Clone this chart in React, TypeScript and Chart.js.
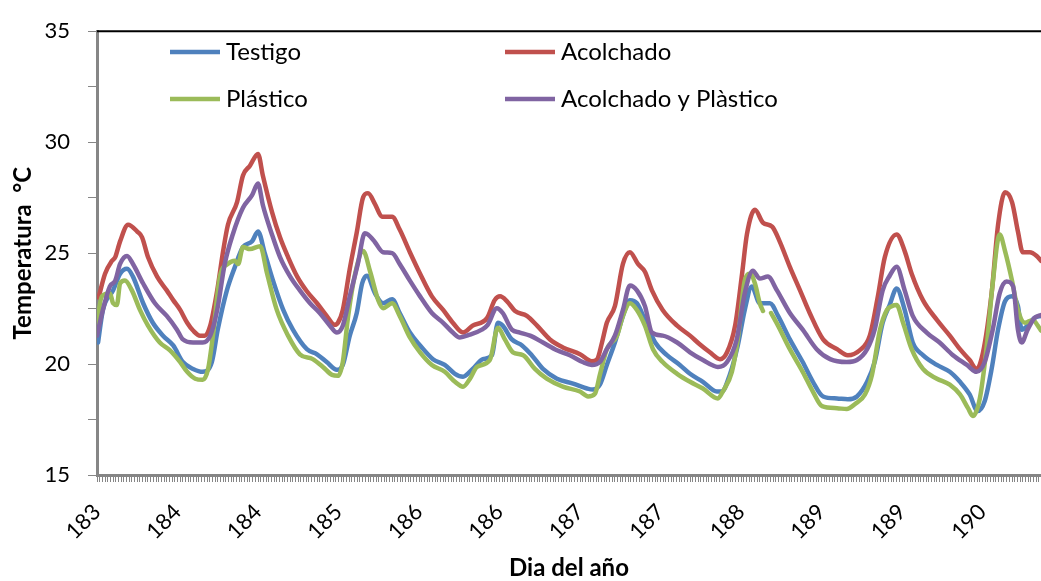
import React, { useEffect, useRef } from 'react';
import { Chart, registerables } from 'chart.js';

Chart.register(...registerables);

// Tick labels of the x axis (one label every 15 hours, starting at day 183, 00:00)
const dayLabels = ['183', '184', '184', '185', '186', '186', '187', '187', '188', '189', '189', '190'];
const hoursPerLabel = 15;
const axisEndHours = 175.9;

const seriesNames = ['Testigo', 'Acolchado', 'Plástico', 'Acolchado y Plàstico'];
const seriesColors = ['#4F81BD', '#C0504D', '#9BBB59', '#8064A2'];

// Hours since the start of day 183 and temperature (°C)
const testigoHours = [0.2, 1.1, 3.0, 4.3, 5.6, 6.7, 8.6, 10.4, 12.3, 14.2, 16.0, 17.9, 19.7, 21.4, 22.5, 24.2, 25.7, 27.2, 28.9, 30.0, 31.3, 32.8, 34.7, 36.5, 39.1, 41.0, 42.8, 44.7, 45.8, 47.1, 48.4, 49.4, 50.3, 51.8, 53.3, 55.0, 56.4, 58.3, 60.2, 62.6, 64.8, 66.7, 68.2, 70.0, 71.9, 73.6, 74.7, 75.6, 77.3, 79.2, 81.0, 83.1, 85.7, 88.7, 91.3, 92.4, 93.7, 95.0, 96.5, 98.0, 99.3, 100.6, 102.1, 104.0, 106.2, 108.6, 110.5, 112.9, 115.5, 116.4, 117.9, 119.4, 120.7, 122.0, 123.5, 125.4, 126.9, 129.1, 131.5, 133.4, 135.3, 137.9, 139.9, 141.6, 143.5, 144.9, 146.4, 147.7, 149.0, 150.5, 152.0, 153.9, 156.5, 158.9, 160.8, 162.6, 164.1, 165.4, 166.7, 167.9, 169.2, 170.5, 171.6, 172.3, 173.4, 174.7, 175.9];
const testigoTemp = [20.97, 22.44, 23.32, 24.07, 24.29, 23.94, 22.74, 21.86, 21.28, 20.84, 20.09, 19.78, 19.65, 20.09, 21.55, 23.32, 24.38, 25.27, 25.53, 25.97, 24.96, 23.76, 22.44, 21.55, 20.67, 20.44, 20.09, 19.74, 19.96, 21.28, 22.30, 23.63, 23.98, 23.19, 22.74, 22.92, 22.30, 21.42, 20.84, 20.22, 19.96, 19.56, 19.43, 19.78, 20.22, 20.40, 21.86, 21.73, 21.11, 20.84, 20.40, 19.78, 19.34, 19.12, 18.90, 18.85, 19.07, 19.96, 20.97, 22.17, 22.88, 22.74, 21.99, 20.97, 20.40, 19.96, 19.56, 19.20, 18.76, 18.76, 19.51, 20.84, 22.44, 23.50, 22.74, 22.74, 22.17, 21.11, 20.09, 19.20, 18.54, 18.45, 18.41, 18.54, 19.20, 20.09, 21.86, 22.66, 23.41, 22.44, 20.97, 20.40, 19.96, 19.65, 19.20, 18.63, 17.88, 18.32, 19.78, 21.55, 22.83, 23.05, 22.61, 21.55, 21.73, 22.08, 22.17];

const acolchadoHours = [0.3, 1.5, 2.8, 3.4, 4.3, 5.8, 7.5, 8.4, 9.5, 11.2, 13.0, 14.2, 15.5, 16.8, 17.9, 19.2, 20.1, 21.1, 22.4, 23.5, 24.4, 26.1, 27.2, 28.5, 30.0, 30.9, 32.6, 34.1, 35.6, 37.3, 39.1, 41.0, 42.8, 44.3, 44.9, 45.8, 47.1, 48.4, 49.6, 50.5, 51.8, 53.1, 55.0, 56.4, 58.3, 60.2, 62.4, 64.5, 66.3, 68.2, 70.0, 72.7, 74.1, 75.1, 76.4, 77.9, 80.1, 82.0, 84.4, 86.8, 90.0, 92.2, 93.2, 94.1, 95.0, 96.5, 98.0, 99.3, 100.8, 102.1, 103.4, 105.4, 108.1, 110.5, 112.3, 114.2, 116.1, 117.4, 118.9, 120.2, 121.1, 122.6, 124.1, 125.8, 127.2, 129.1, 131.0, 132.8, 135.3, 137.9, 139.9, 142.1, 144.0, 145.5, 146.8, 149.0, 150.5, 151.8, 153.9, 156.5, 158.9, 160.8, 162.6, 163.9, 165.1, 166.7, 167.9, 169.2, 170.5, 171.6, 172.5, 173.8, 175.1, 175.9];
const acolchadoTemp = [23.0, 24.07, 24.65, 24.82, 25.53, 26.28, 25.97, 25.71, 24.82, 23.94, 23.32, 22.88, 22.44, 21.86, 21.51, 21.28, 21.28, 21.73, 23.32, 25.09, 26.28, 27.30, 28.50, 28.94, 29.47, 28.50, 26.86, 25.71, 24.82, 23.94, 23.28, 22.74, 22.17, 21.77, 21.86, 22.44, 24.29, 25.93, 27.52, 27.70, 27.21, 26.64, 26.64, 26.06, 25.04, 24.07, 23.05, 22.44, 21.86, 21.42, 21.73, 22.08, 22.88, 23.05, 22.83, 22.39, 22.17, 21.73, 21.11, 20.75, 20.44, 20.13, 20.22, 20.97, 21.86, 22.61, 24.51, 25.04, 24.51, 24.16, 23.32, 22.44, 21.73, 21.28, 20.89, 20.53, 20.22, 20.53, 21.73, 24.07, 25.84, 26.95, 26.37, 26.19, 25.53, 24.38, 23.32, 22.30, 21.11, 20.67, 20.40, 20.62, 21.28, 23.05, 24.82, 25.84, 25.09, 24.07, 22.88, 21.99, 21.28, 20.67, 20.18, 19.78, 20.53, 23.19, 26.28, 27.74, 27.30, 25.97, 25.04, 25.04, 24.87, 24.65];

const plasticoHours = [0.0, 0.9, 2.4, 3.0, 3.7, 4.3, 5.2, 6.5, 8.0, 9.5, 11.7, 13.6, 15.5, 16.8, 18.3, 19.7, 20.7, 21.6, 22.9, 24.4, 25.7, 26.3, 27.2, 28.5, 30.4, 31.7, 33.5, 35.6, 37.8, 40.2, 42.1, 43.8, 44.9, 45.8, 46.8, 48.1, 49.6, 50.9, 52.4, 53.3, 55.0, 56.4, 58.3, 60.2, 62.4, 64.8, 66.7, 68.2, 69.5, 70.8, 73.2, 74.7, 76.0, 77.5, 79.4, 81.6, 83.8, 86.8, 90.0, 91.5, 92.8, 93.7, 95.0, 96.9, 98.0, 99.3, 100.6, 102.1, 103.6, 105.4, 108.1, 110.5, 112.9, 115.7, 116.6, 118.3, 119.4, 120.7, 121.7, 122.6, 123.5, 124.1, 124.8, 125.6, 126.9, 129.1, 131.5, 133.4, 135.1, 137.9, 139.7, 141.2, 143.1, 144.4, 145.9, 147.2, 148.1, 149.0, 150.2, 151.8, 153.9, 156.5, 158.9, 160.8, 162.3, 163.2, 164.5, 165.8, 166.9, 168.2, 169.2, 170.5, 171.6, 172.9, 174.4, 175.3, 175.9];
const plasticoTemp = [21.86, 23.05, 23.19, 22.74, 22.66, 23.63, 23.76, 23.32, 22.44, 21.73, 20.97, 20.62, 20.09, 19.65, 19.34, 19.29, 19.78, 21.28, 23.94, 24.51, 24.65, 24.51, 25.27, 25.18, 25.31, 24.07, 22.44, 21.28, 20.44, 20.22, 19.87, 19.51, 19.47, 20.09, 22.17, 24.07, 25.09, 24.16, 22.88, 22.52, 22.74, 22.17, 21.20, 20.53, 19.96, 19.65, 19.20, 18.98, 19.34, 19.87, 20.18, 21.64, 21.11, 20.53, 20.40, 19.78, 19.34, 18.98, 18.76, 18.54, 18.67, 19.51, 20.67, 21.28, 22.17, 22.74, 22.44, 21.73, 20.67, 20.09, 19.56, 19.20, 18.90, 18.45, 18.76, 19.65, 21.11, 23.76, 24.07, 23.63, 22.74, 22.39, null, 22.30, 21.73, 20.67, 19.65, 18.76, 18.10, 18.01, 17.97, 18.19, 18.63, 19.51, 21.55, 22.44, 22.61, 22.66, 21.86, 20.67, 19.78, 19.34, 19.07, 18.63, 18.01, 17.66, 18.45, 20.84, 23.63, 25.84, 25.09, 23.76, 22.44, 21.86, 21.99, 21.73, 21.51];

const ambosHours = [0.0, 1.1, 2.4, 3.4, 4.3, 5.6, 6.7, 8.6, 10.8, 13.0, 14.9, 16.0, 17.9, 19.7, 21.1, 22.4, 23.8, 25.3, 27.2, 28.9, 30.0, 30.9, 32.6, 34.1, 36.0, 37.8, 39.7, 41.5, 43.4, 44.7, 45.8, 47.1, 48.6, 49.9, 50.5, 51.8, 53.3, 55.0, 56.4, 58.3, 60.2, 62.4, 64.5, 66.3, 67.6, 69.5, 71.7, 72.8, 74.5, 75.6, 77.3, 78.8, 80.7, 83.1, 85.7, 88.1, 90.5, 92.2, 93.7, 95.0, 96.5, 98.0, 99.3, 100.6, 102.1, 103.4, 105.4, 108.1, 110.5, 112.9, 115.7, 117.4, 119.2, 120.7, 122.2, 123.5, 125.0, 126.7, 129.1, 131.5, 134.1, 136.6, 139.7, 141.6, 143.5, 144.9, 146.4, 147.7, 149.0, 150.5, 152.0, 154.6, 157.0, 159.5, 162.1, 163.9, 165.4, 166.9, 168.2, 169.5, 170.7, 171.6, 172.3, 173.4, 174.7, 175.9];
const ambosTemp = [21.28, 22.44, 23.50, 23.76, 24.51, 24.87, 24.51, 23.63, 22.74, 22.17, 21.55, 21.11, 20.97, 20.97, 21.28, 22.44, 24.51, 25.84, 27.04, 27.61, 28.14, 27.17, 25.84, 24.82, 23.94, 23.32, 22.74, 22.30, 21.73, 21.42, 21.73, 23.05, 24.51, 25.89, 25.84, 25.49, 25.04, 25.00, 24.51, 23.76, 23.05, 22.30, 21.86, 21.42, 21.20, 21.33, 21.55, 21.77, 22.52, 22.30, 21.55, 21.42, 21.28, 20.97, 20.62, 20.40, 20.09, 19.96, 20.09, 20.67, 21.28, 22.44, 23.54, 23.32, 22.61, 21.42, 21.28, 20.97, 20.53, 20.18, 19.87, 20.09, 21.11, 23.19, 24.21, 23.85, 23.94, 23.32, 22.30, 21.55, 20.67, 20.22, 20.09, 20.18, 20.67, 21.55, 23.32, 23.98, 24.38, 23.32, 22.17, 21.42, 20.97, 20.40, 19.96, 19.65, 20.09, 21.55, 23.19, 23.72, 23.50, 21.55, 20.97, 21.55, 22.08, 22.21];

const seriesHours = [testigoHours, acolchadoHours, plasticoHours, ambosHours];
const seriesTemps = [testigoTemp, acolchadoTemp, plasticoTemp, ambosTemp];

const FONT = 'Lato';
const AXIS_GRAY = '#868686';

const legendSlots = [
  { x: 170, y: 52 },
  { x: 505, y: 52 },
  { x: 170, y: 99 },
  { x: 505, y: 99 },
];

const decorPlugin = {
  id: 'decor',
  beforeDatasetsDraw(chart: any) {
    const { ctx, chartArea } = chart;
    ctx.save();
    ctx.strokeStyle = '#000';
    ctx.lineWidth = 2;
    ctx.beginPath();
    ctx.moveTo(chartArea.left, chartArea.top);
    ctx.lineTo(chartArea.right, chartArea.top);
    ctx.stroke();
    ctx.restore();
  },
  afterDraw(chart: any) {
    const { ctx } = chart;
    ctx.save();
    chart.data.datasets.forEach((ds: any, i: number) => {
      const p = legendSlots[i];
      ctx.strokeStyle = ds.borderColor;
      ctx.lineWidth = 4.5;
      ctx.lineCap = 'butt';
      ctx.beginPath();
      ctx.moveTo(p.x, p.y);
      ctx.lineTo(p.x + 50, p.y);
      ctx.stroke();
      ctx.fillStyle = '#000';
      ctx.font = `24px ${FONT}`;
      ctx.textBaseline = 'middle';
      ctx.textAlign = 'left';
      ctx.fillText(ds.label, p.x + 56, p.y);
    });
    ctx.restore();
  },
};

export default function App() {
  const canvasRef = useRef<HTMLCanvasElement | null>(null);

  useEffect(() => {
    if (!canvasRef.current) return;
    const datasets = seriesNames.map((name, i) => ({
      label: name,
      data: seriesHours[i].map((h, j) => ({ x: h, y: seriesTemps[i][j] })),
      borderColor: seriesColors[i],
      backgroundColor: seriesColors[i],
      borderWidth: 4.5,
      pointRadius: 0,
      pointHoverRadius: 0,
      fill: false,
      spanGaps: false,
      cubicInterpolationMode: 'monotone' as const,
      borderJoinStyle: 'round' as const,
      borderCapStyle: 'round' as const,
      order: seriesNames.length - i,
    }));

    const chart = new Chart(canvasRef.current, {
      type: 'line',
      data: { datasets },
      plugins: [decorPlugin],
      options: {
        animation: false,
        responsive: true,
        maintainAspectRatio: false,
        devicePixelRatio: 1,
        layout: { padding: { top: 23, right: 0, bottom: 0, left: 0 } },
        plugins: {
          legend: { display: false },
          tooltip: { enabled: false },
        },
        scales: {
          x: {
            type: 'linear',
            min: 0,
            max: axisEndHours,
            afterBuildTicks: (s: any) => {
              const t: any[] = [];
              for (let v = 0; v <= axisEndHours; v += 0.5) t.push({ value: v });
              s.ticks = t;
            },
            afterFit: (s: any) => {
              s.height = 106;
              s.paddingRight = 0;
              s.paddingLeft = 0;
            },
            ticks: {
              autoSkip: false,
              minRotation: 45,
              maxRotation: 45,
              padding: 17,
              color: '#000',
              font: { family: FONT, size: 22 },
              callback: (v: any) => {
                const n = Number(v);
                return n % hoursPerLabel === 0 ? dayLabels[n / hoursPerLabel] ?? '' : '';
              },
            },
            grid: {
              drawOnChartArea: false,
              drawTicks: true,
              tickLength: 7,
              tickColor: AXIS_GRAY,
              color: AXIS_GRAY,
              lineWidth: 1,
            },
            border: { display: true, color: AXIS_GRAY, width: 3 },
            title: {
              display: true,
              text: 'Dia del año',
              color: '#000',
              font: { family: FONT, size: 24, weight: 'bold', lineHeight: 1.0 },
              padding: { top: 0, bottom: 1 },
            },
          },
          y: {
            min: 15,
            max: 35,
            afterFit: (s: any) => {
              s.width = 97;
            },
            ticks: {
              stepSize: 2.5,
              padding: 18,
              color: '#000',
              font: { family: FONT, size: 22 },
              callback: (v: any) => (Number(v) % 5 === 0 ? String(v) : ''),
            },
            grid: {
              drawOnChartArea: false,
              drawTicks: true,
              tickLength: 9,
              tickColor: AXIS_GRAY,
              color: AXIS_GRAY,
            },
            border: { display: true, color: AXIS_GRAY, width: 3 },
            title: {
              display: true,
              text: 'Temperatura  °C',
              color: '#000',
              font: { family: FONT, size: 24, weight: 'bold', lineHeight: 1.0 },
              padding: { top: 11, bottom: 0 },
            },
          },
        },
      },
    });
    return () => chart.destroy();
  }, []);

  return (
    <div style={{ position: 'absolute', left: 0, top: 0, width: 1041, height: 581, background: '#fff' }}>
      <canvas ref={canvasRef} />
    </div>
  );
}
